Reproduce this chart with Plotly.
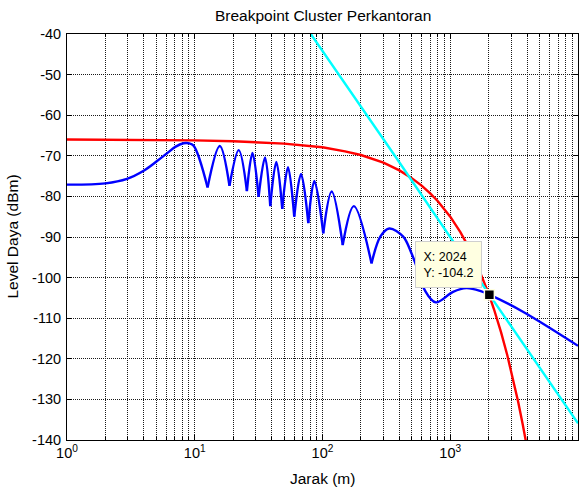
import plotly.graph_objects as go
import math

# ---------------- data ----------------
# blue curve: initial rise up to the first null
blue_rise_d = [1, 2, 2.95, 3.98, 5.07, 6.06, 7.04, 8.17, 8.95, 9.79, 12.6]
blue_rise_y = [-77.1, -76.8, -75.7, -73.7, -71.3, -69.4, -67.8, -66.9, -66.9, -67.5, -77.8]

# blue curve: interference nulls and lobe peaks
blue_null_d = [12.6, 18.7, 25.6, 31.6, 39.0, 48.4, 60.1, 77.4, 101.4, 144, 242]
blue_null_y = [-77.8, -77.4, -78.7, -80.1, -82.4, -83.1, -85.0, -86.6, -89.1, -92.0, -96.5]
blue_peak_d = [15.7, 22.1, 28.3, 35.5, 43.5, 53.7, 67.9, 86.3, 118, 176]
blue_peak_y = [-67.6, -68.6, -69.3, -70.4, -71.5, -72.8, -74.5, -76.2, -78.8, -82.4]

# blue curve: last lobe and far region
blue_tail_d = [242, 285, 333, 428, 497, 545, 632, 770, 1052, 1339, 1753, 2024, 3706, 10000]
blue_tail_y = [-96.5, -89.8, -87.9, -89.9, -94.0, -97.3, -103.1, -106.1, -103.5, -102.6, -103.4, -104.2, -108.4, -116.8]

# red curve
red_d = [1, 5, 10, 20, 50, 100, 150, 200, 300, 400, 500, 600, 700, 800, 900, 1000,
         1200, 1400, 1600, 1800, 2000, 2200, 2500, 2800, 3100, 3400, 3700, 4000]
red_y = [-66.0, -66.1, -66.2, -66.4, -67.0, -67.9, -68.9, -69.8, -71.7, -73.6, -75.5, -77.4,
         -79.3, -81.2, -83.1, -85.0, -88.8, -92.6, -96.4, -100.2, -104.0, -107.8, -113.5,
         -119.2, -124.9, -130.6, -136.3, -142.0]

# cyan curve
cyan_d = [81, 380, 2024, 10000]
cyan_y = [-40.0, -70.6, -104.2, -135.9]

# data tip
tip_d = 2024
tip_y = -104.2

title_text = "Breakpoint Cluster Perkantoran"
xlabel = "Jarak (m)"
ylabel = "Level Daya (dBm)"
xtick_vals = [1, 10, 100, 1000, 10000]
xtick_text = ["10<sup>0</sup>", "10<sup>1</sup>", "10<sup>2</sup>", "10<sup>3</sup>", "10<sup>4</sup>"]
ytick_vals = list(range(-140, -30, 10))
ytick_text = ["-140", "-130", "-120", "-110", "-100", "-90", "-80", "-70", "-60", "-50", "-40"]

# ---------------- build blue segments ----------------
bx, by = [], []
bx += blue_rise_d + [None]
by += blue_rise_y + [None]
for i in range(len(blue_peak_d)):
    bx += [blue_null_d[i], blue_peak_d[i], blue_null_d[i + 1], None]
    by += [blue_null_y[i], blue_peak_y[i], blue_null_y[i + 1], None]
bx += blue_tail_d
by += blue_tail_y

minor_vals = [m * 10 ** k for k in range(4) for m in range(2, 10)]

FONT = "Liberation Sans, Arial, Helvetica, sans-serif"

fig = go.Figure()
fig.add_trace(go.Scatter(x=red_d, y=red_y, mode="lines",
                         line=dict(color="#ff0000", width=2.4), hoverinfo="skip"))
fig.add_trace(go.Scatter(x=cyan_d, y=cyan_y, mode="lines",
                         line=dict(color="#00ffff", width=2.4), hoverinfo="skip"))
fig.add_trace(go.Scatter(x=bx, y=by, mode="lines", connectgaps=False,
                         line=dict(color="#0000ff", width=2.4, shape="spline", smoothing=1),
                         hoverinfo="skip"))
fig.add_trace(go.Scatter(x=[tip_d], y=[tip_y], mode="markers",
                         marker=dict(symbol="square", size=10, color="black",
                                     line=dict(color="#ffffe1", width=1.5)),
                         hoverinfo="skip"))

grid_col = "#1a1a1a"
grid_dash = "1px,1px"
fig.update_layout(
    width=588, height=489,
    margin=dict(l=67, r=10, t=34, b=49),
    paper_bgcolor="white", plot_bgcolor="white",
    showlegend=False,
    font=dict(family=FONT, size=14.5, color="black"),
    xaxis=dict(type="log", range=[0, 4], tickvals=xtick_vals, ticktext=xtick_text,
               showline=True, linecolor="black", linewidth=1, mirror="ticks",
               ticks="inside", ticklen=5, tickcolor="black",
               showgrid=True, gridcolor=grid_col, griddash=grid_dash, gridwidth=1,
               zeroline=False, tickfont=dict(size=14.5), automargin=False,
               minor=dict(tickvals=minor_vals, ticks="inside", ticklen=3, tickcolor="black",
                          showgrid=True, gridcolor=grid_col, griddash=grid_dash, gridwidth=1)),
    yaxis=dict(range=[-140, -40], tickvals=ytick_vals, ticktext=ytick_text,
               showline=True, linecolor="black", linewidth=1, mirror="ticks",
               ticks="inside", ticklen=5, tickcolor="black",
               showgrid=True, gridcolor=grid_col, griddash=grid_dash, gridwidth=1,
               zeroline=False, tickfont=dict(size=14.5), ticklabelstandoff=2,
               automargin=False),
    annotations=[
        dict(text=title_text, xref="paper", yref="paper", x=0.5, y=1, yshift=8,
             xanchor="center", yanchor="bottom", showarrow=False, font=dict(size=15.5)),
        dict(text=xlabel, xref="paper", yref="paper", x=0.5, y=0, yshift=-28,
             xanchor="center", yanchor="top", showarrow=False, font=dict(size=15.5)),
        dict(text=ylabel, xref="paper", yref="paper", x=0, y=0.5, xshift=-45,
             xanchor="right", yanchor="middle", textangle=-90, showarrow=False,
             font=dict(size=15.5)),
        dict(text="X: 2024<br>Y: -104.2", xref="x", yref="y", x=math.log10(tip_d), y=tip_y,
             xanchor="right", yanchor="bottom", xshift=-7, yshift=7, showarrow=False,
             align="left", bgcolor="#ffffe1", bordercolor="#cfcfcf", borderwidth=1,
             borderpad=7.5, font=dict(size=12.5)),
    ],
)

fig.write_html("out.html", config={"displayModeBar": False},
               post_script="document.body.style.margin='0';document.body.style.padding='0';")
